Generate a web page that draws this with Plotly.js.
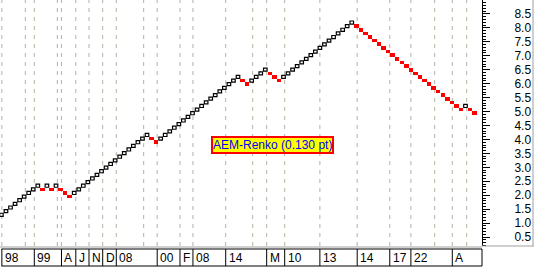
<!DOCTYPE html>
<html>
<head>
<meta charset="utf-8">
<script src="https://cdn.plot.ly/plotly-3.0.1.min.js"></script>
<style>html,body{margin:0;padding:0;background:#fff;}#chart{width:534px;height:272px;}</style>
</head>
<body>
<div id="chart"></div>
<script>
// Renko box size (price units)
const boxSize = 0.13;

// Closing price of every Renko brick, in order (brick index = position)
const brickPrice = [
  1.30, 1.43, 1.56, 1.69, 1.82, 1.95, 2.08, 2.21, 2.34,
  2.21, 2.34, 2.21, 2.34, 2.21, 2.08, 1.95,
  2.08, 2.21, 2.34, 2.47, 2.60, 2.73, 2.86, 2.99, 3.12, 3.25, 3.38, 3.51, 3.64, 3.77, 3.90, 4.03, 4.16,
  4.03, 3.90,
  4.03, 4.16, 4.29, 4.42, 4.55, 4.68, 4.81, 4.94, 5.07, 5.20, 5.33, 5.46, 5.59, 5.72, 5.85, 5.98, 6.11, 6.24,
  6.11, 5.98,
  6.11, 6.24, 6.37, 6.50,
  6.37, 6.24, 6.11,
  6.24, 6.37, 6.50, 6.63, 6.76, 6.89, 7.02, 7.15, 7.28, 7.41, 7.54, 7.67, 7.80, 7.93, 8.06, 8.19,
  8.06, 7.93, 7.80, 7.67, 7.54, 7.41, 7.28, 7.15, 7.02, 6.89, 6.76, 6.63, 6.50, 6.37, 6.24, 6.11,
  5.98, 5.85, 5.72, 5.59, 5.46, 5.33, 5.20, 5.07,
  5.20, 5.07, 4.94
];

// Date boundaries (brick position) and their labels ('' = boundary without label)
const datePos = [0.1, 5.25, 7.23, 12.29, 13.2, 16.35, 19.25, 22.26, 25.25, 31.27, 34.24, 39.25, 42.1,
                 49.3, 55.23, 58.3, 62.26, 70.0, 78.2, 85.36, 90.0, 95.23, 99.1, 102.27];
const dateLabels = ['98', '', '99', '', 'A', 'J', 'N', 'D', '08', '', '00', 'F', '08',
                    '14', '', 'M', '10', '13', '14', '17', '22', '', 'A', ''];

// Price axis ticks
const yTicks = [0.5, 1.0, 1.5, 2.0, 2.5, 3.0, 3.5, 4.0, 4.5, 5.0, 5.5, 6.0, 6.5, 7.0, 7.5, 8.0, 8.5];
const yTickText = ['0.5', '1.0', '1.5', '2.0', '2.5', '3.0', '3.5', '4.0', '4.5', '5.0', '5.5', '6.0', '6.5', '7.0', '7.5', '8.0', '8.5'];

const chartTitle = 'AEM-Renko (0.130 pt)';

// ---- build traces ----
const upX = [], upBase = [], upH = [];
const dnX = [], dnBase = [], dnH = [];
brickPrice.forEach((p, i) => {
  const up = i === 0 || p > brickPrice[i - 1];
  if (up) { upX.push(i); upBase.push(p - boxSize * 0.42); upH.push(boxSize * 0.84); }
  else { dnX.push(i); dnBase.push(p - boxSize * 0.5); dnH.push(boxSize); }
});

const traces = [
  { type: 'bar', x: upX, y: upH, base: upBase, width: 0.78,
    marker: { color: '#ffffff', line: { color: '#000000', width: 1.2 } }, hoverinfo: 'skip' },
  { type: 'bar', x: dnX, y: dnH, base: dnBase, width: 0.98,
    marker: { color: '#ff0000', line: { width: 0 } }, hoverinfo: 'skip' }
];

// plot area pixel geometry helpers (paper coords)
const PH = 246;
const py = v => (PH - v) / PH;

const shapes = [];
datePos.forEach(p => {
  shapes.push({ type: 'line', xref: 'x', yref: 'paper', x0: p, x1: p, y0: 0, y1: 1, layer: 'below',
    line: { color: '#b3b3a0', width: 1, dash: '4px,5px' } });
});
// date strip
shapes.push({ type: 'line', xref: 'paper', yref: 'paper', x0: 0, x1: 1, y0: py(247), y1: py(247),
  line: { color: '#a0a0a0', width: 1 } });
shapes.push({ type: 'line', xref: 'paper', yref: 'paper', x0: 0.003, x1: 1, y0: py(249), y1: py(249),
  line: { color: '#000000', width: 1 } });
shapes.push({ type: 'line', xref: 'paper', yref: 'paper', x0: 0.003, x1: 1, y0: py(266), y1: py(266),
  line: { color: '#000000', width: 1 } });
shapes.push({ type: 'line', xref: 'paper', yref: 'paper', x0: 1, x1: 1, y0: py(249), y1: py(266),
  line: { color: '#000000', width: 1 } });
datePos.forEach((p, k) => {
  if (dateLabels[k] !== '') {
    shapes.push({ type: 'line', xref: 'x', yref: 'paper', x0: p, x1: p, y0: py(249), y1: py(266),
      line: { color: '#000000', width: 1 } });
  }
});
// right frame
shapes.push({ type: 'line', xref: 'paper', yref: 'paper', x0: 533 / 482, x1: 533 / 482, y0: 1, y1: py(246),
  line: { color: '#a0a0a0', width: 1 } });
shapes.push({ type: 'line', xref: 'paper', yref: 'paper', x0: 1, x1: 534 / 482, y0: py(246), y1: py(246),
  line: { color: '#a0a0a0', width: 1 } });

const annotations = [];
datePos.forEach((p, k) => {
  if (dateLabels[k] !== '') {
    annotations.push({ xref: 'x', yref: 'paper', x: p, y: py(257.5), xanchor: 'left', yanchor: 'middle',
      xshift: 1, text: dateLabels[k], showarrow: false,
      font: { family: 'Liberation Sans, Arial, sans-serif', size: 12, color: '#000000' } });
  }
});
annotations.push({ xref: 'paper', yref: 'paper', x: 272.5 / 482, y: py(145), xanchor: 'center', yanchor: 'middle',
  text: chartTitle, showarrow: false, bgcolor: '#ffff00', bordercolor: '#ff0000', borderwidth: 2, borderpad: 0,
  font: { family: 'Liberation Sans, Arial, sans-serif', size: 12, color: '#0000ff' } });

const layout = {
  width: 534, height: 272,
  margin: { l: 0, r: 52, t: 0, b: 26, pad: 0 },
  paper_bgcolor: '#ffffff', plot_bgcolor: '#ffffff',
  showlegend: false, barmode: 'overlay', bargap: 0,
  xaxis: { range: [-0.31, 105.63], visible: false, fixedrange: true },
  yaxis: {
    side: 'right', range: [0.18, 8.998], showgrid: false, zeroline: false,
    showline: true, linecolor: '#000000', linewidth: 1,
    tickvals: yTicks, ticktext: yTickText, ticks: 'outside', ticklen: 7, tickcolor: '#000000', tickwidth: 1,
    ticklabelstandoff: 22,
    minor: { dtick: 0.1, tick0: 0.5, ticks: 'outside', ticklen: 3, tickcolor: '#000000', tickwidth: 1, showgrid: false },
    tickfont: { family: 'Liberation Sans, Arial, sans-serif', size: 12, color: '#000000' },
    fixedrange: true
  },
  shapes: shapes,
  annotations: annotations
};

Plotly.newPlot('chart', traces, layout, { staticPlot: true, displayModeBar: false });
</script>
</body>
</html>
